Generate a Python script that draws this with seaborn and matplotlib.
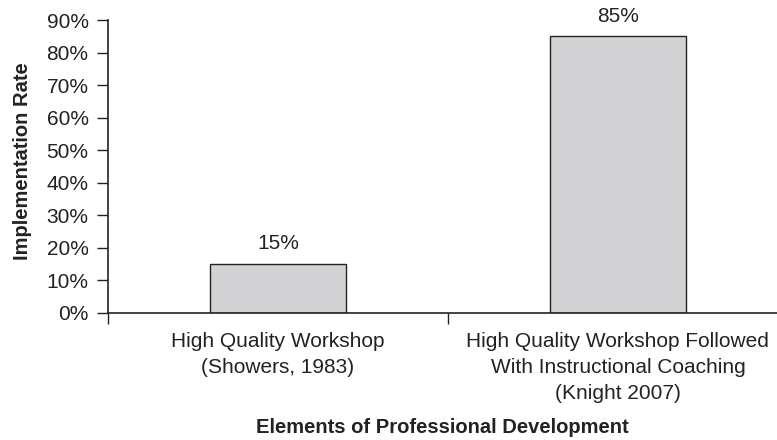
import matplotlib
matplotlib.use("Agg")
import matplotlib.pyplot as plt
import seaborn as sns
from matplotlib.ticker import FuncFormatter, FixedLocator

categories = ["High Quality Workshop\n(Showers, 1983)",
              "High Quality Workshop Followed\nWith Instructional Coaching\n(Knight 2007)"]
values = [15, 85]
value_labels = ["15%", "85%"]
yticks = list(range(0, 91, 10))

sns.set_theme(style="white")
plt.rcParams['font.family'] = ['Liberation Sans', 'DejaVu Sans']

fig = plt.figure(figsize=(7.77, 4.40), dpi=100)
ax = fig.add_axes([0.139, 0.289, 0.861, 0.6655])

sns.barplot(x=categories, y=values, color="#d3d3d5", edgecolor="#222222",
            linewidth=1.0, width=0.4, saturation=1, ax=ax)

for i, (v, t) in enumerate(zip(values, value_labels)):
    ax.text(i, v + 6.2, t, ha="center", va="center", fontsize=15, color="#222222")

ax.set_ylim(0, 90)
ax.set_xlim(-0.5, 1.468)
ax.set_yticks(yticks)
ax.yaxis.set_major_formatter(FuncFormatter(lambda y, p: f"{int(y)}%"))
ax.tick_params(axis="y", which="major", left=True, length=8, width=1, color="#222222",
               labelsize=15, labelcolor="#222222", pad=6)
ax.tick_params(axis="x", which="major", bottom=False, length=0, labelsize=15,
               labelcolor="#222222", pad=14)
for lbl in ax.get_xticklabels():
    lbl.set_linespacing(1.45)
ax.xaxis.set_minor_locator(FixedLocator([-0.5, 0.5, 1.5]))
ax.tick_params(axis="x", which="minor", bottom=True, length=8, width=1, color="#222222")

for s in ["top", "right"]:
    ax.spines[s].set_visible(False)
for s in ["left", "bottom"]:
    ax.spines[s].set_color("#222222")
    ax.spines[s].set_linewidth(1.2)

ax.set_ylabel("Implementation Rate", fontsize=14.5, fontweight="bold", color="#222222")
ax.yaxis.set_label_coords(-0.113, 0.517)
ax.set_xlabel("Elements of Professional Development", fontsize=14.5, fontweight="bold",
              color="#222222", labelpad=11)

fig.savefig("out.png", dpi=100)
